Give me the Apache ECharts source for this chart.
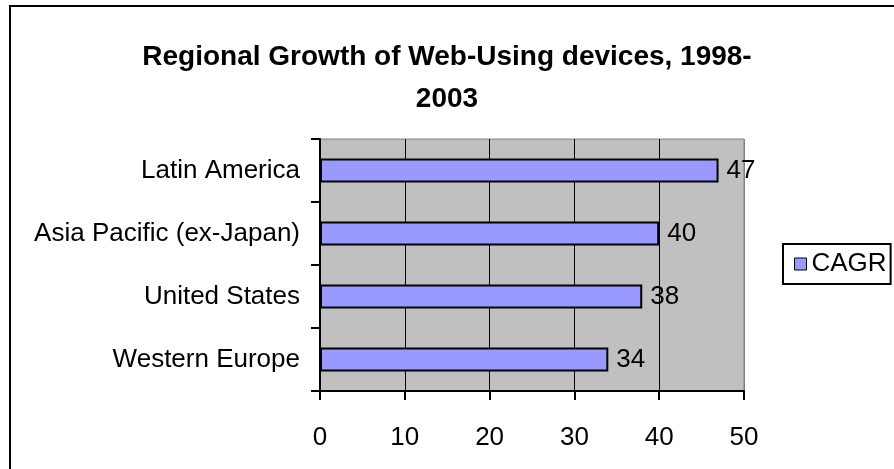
<!DOCTYPE html>
<html>
<head>
<meta charset="utf-8">
<script src="https://cdn.jsdelivr.net/npm/echarts@6/dist/echarts.min.js"></script>
<style>
    html, body { margin: 0; padding: 0; background: #fff; }
    #chart { width: 894px; height: 469px; }
</style>
</head>
<body>
<div id="chart"></div>
<script>
// data
var regions = ['Western Europe', 'United States', 'Asia Pacific (ex-Japan)', 'Latin America'];
var cagr = [34, 38, 40, 47];
var seriesName = 'CAGR';
var titleText = 'Regional Growth of Web-Using devices, 1998-\n2003';

(function() {
    var myChart = echarts.init(document.getElementById('chart'));
    var font = '"Liberation Sans", Arial, sans-serif';
    var option = {
        backgroundColor: '#fff',
        textStyle: { fontFamily: font },
        graphic: [{
            type: 'rect',
            z: -10,
            shape: { x: 10, y: 6, width: 1000, height: 1000 },
            style: { fill: 'none', stroke: '#000', lineWidth: 2 }
        }],
        title: {
            text: titleText,
            left: 'center',
            top: 31,
            textStyle: {
                fontFamily: font,
                fontSize: 28,
                fontWeight: 'bold',
                color: '#000',
                lineHeight: 42
            }
        },
        legend: {
            left: 783,
            top: 244,
            orient: 'vertical',
            icon: 'rect',
            itemWidth: 12,
            itemHeight: 12,
            itemGap: 0,
            padding: [7, 4, 7, 11],
            borderColor: '#000',
            borderWidth: 2,
            itemStyle: { borderColor: '#000', borderWidth: 1 },
            textStyle: { fontFamily: font, fontSize: 26, color: '#000', padding: [0, 0, 0, 0] },
            data: [seriesName]
        },
        grid: {
            left: 320,
            top: 139,
            right: 150,
            bottom: 78,
            show: true,
            backgroundColor: '#C0C0C0',
            borderColor: '#808080',
            borderWidth: 1
        },
        xAxis: {
            type: 'value',
            min: 0,
            max: 50,
            interval: 10,
            axisLine: { show: true, lineStyle: { color: '#000', width: 2 } },
            axisTick: { show: true, length: 9, lineStyle: { color: '#000', width: 2 } },
            axisLabel: { fontFamily: font, fontSize: 26, color: '#000', margin: 34 },
            splitLine: {
                show: true,
                lineStyle: { color: ['#000', '#000', '#000', '#000', '#000', '#808080'], width: 1 }
            }
        },
        yAxis: {
            type: 'category',
            data: regions,
            axisLine: { show: true, lineStyle: { color: '#000', width: 2 } },
            axisTick: { show: true, length: 9, lineStyle: { color: '#000', width: 2 } },
            axisLabel: { fontFamily: font, fontSize: 26, color: '#000', margin: 20 }
        },
        series: [{
            name: seriesName,
            type: 'bar',
            data: cagr,
            barWidth: 24,
            itemStyle: { color: '#9999FF', borderColor: '#000', borderWidth: 2 },
            label: {
                show: true,
                position: 'right',
                distance: 8,
                fontFamily: font,
                fontSize: 26,
                color: '#000'
            }
        }]
    };
    myChart.setOption(option);
}());
</script>
</body>
</html>
